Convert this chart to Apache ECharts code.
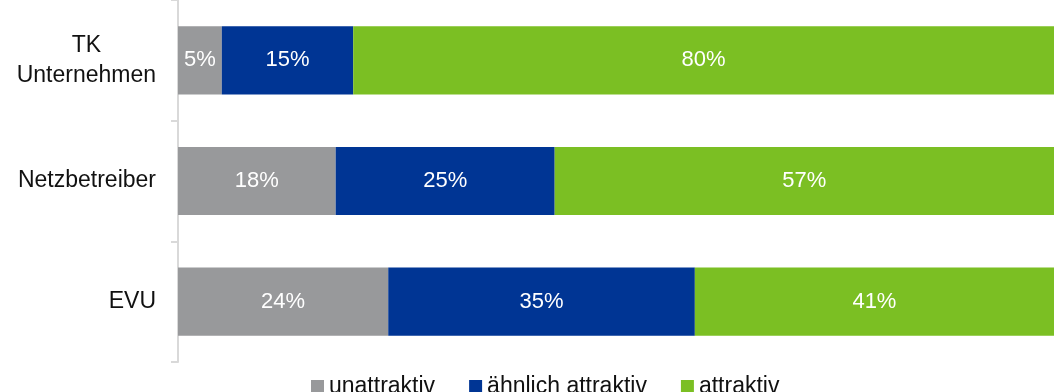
<!DOCTYPE html>
<html>
<head>
<meta charset="utf-8">
<script src="https://cdn.jsdelivr.net/npm/echarts@6/dist/echarts.min.js"></script>
<style>
  html, body { margin: 0; padding: 0; background: #ffffff; }
  #chart { width: 1054px; height: 392px; }
</style>
</head>
<body>
<div id="chart"></div>
<script>
// Categories, top to bottom
const categories = ['TK\nUnternehmen', 'Netzbetreiber', 'EVU'];

// Shares per category (percent)
const unattraktiv = [5, 18, 24];
const aehnlichAttraktiv = [15, 25, 35];
const attraktiv = [80, 57, 41];

const seriesNames = ['unattraktiv', 'ähnlich attraktiv', 'attraktiv'];
const seriesColors = ['#98999b', '#003594', '#7bbf23'];

const FONT = '"Liberation Sans", Arial, sans-serif';

const chart = echarts.init(document.getElementById('chart'));

function barSeries(name, data, color) {
  return {
    name: name,
    type: 'bar',
    stack: 'total',
    data: data,
    barWidth: '56.5%',
    itemStyle: { color: color },
    label: {
      show: true,
      position: 'inside',
      color: '#ffffff',
      fontFamily: FONT,
      fontSize: 22,
      formatter: p => p.value + '%'
    },
    emphasis: { disabled: true }
  };
}

chart.setOption({
  animation: false,
  backgroundColor: '#ffffff',
  grid: { left: 178, right: 0, top: -4, bottom: 30, containLabel: false },
  xAxis: {
    type: 'value',
    min: 0,
    max: 100,
    show: false
  },
  yAxis: {
    type: 'category',
    inverse: true,
    data: categories,
    axisLine: { show: true, lineStyle: { color: '#d9d9d9', width: 2 } },
    axisTick: { show: true, length: 7, lineStyle: { color: '#d9d9d9', width: 2 } },
    axisLabel: {
      margin: 22,
      align: 'right',
      // each line centred over the widest line of the label block
      formatter: v => v.split('\n').map(s => '{c|' + s + '}').join('\n'),
      rich: {
        c: {
          align: 'center',
          color: '#111111',
          fontFamily: FONT,
          fontSize: 23,
          lineHeight: 30
        }
      }
    }
  },
  legend: {
    data: seriesNames,
    left: 306,
    top: 370,
    itemWidth: 13,
    itemHeight: 13,
    itemGap: 34,
    icon: 'rect',
    textStyle: { color: '#111111', fontFamily: FONT, fontSize: 23, padding: [0, 0, 0, 0] }
  },
  series: [
    barSeries(seriesNames[0], unattraktiv, seriesColors[0]),
    barSeries(seriesNames[1], aehnlichAttraktiv, seriesColors[1]),
    barSeries(seriesNames[2], attraktiv, seriesColors[2])
  ]
});
</script>
</body>
</html>
